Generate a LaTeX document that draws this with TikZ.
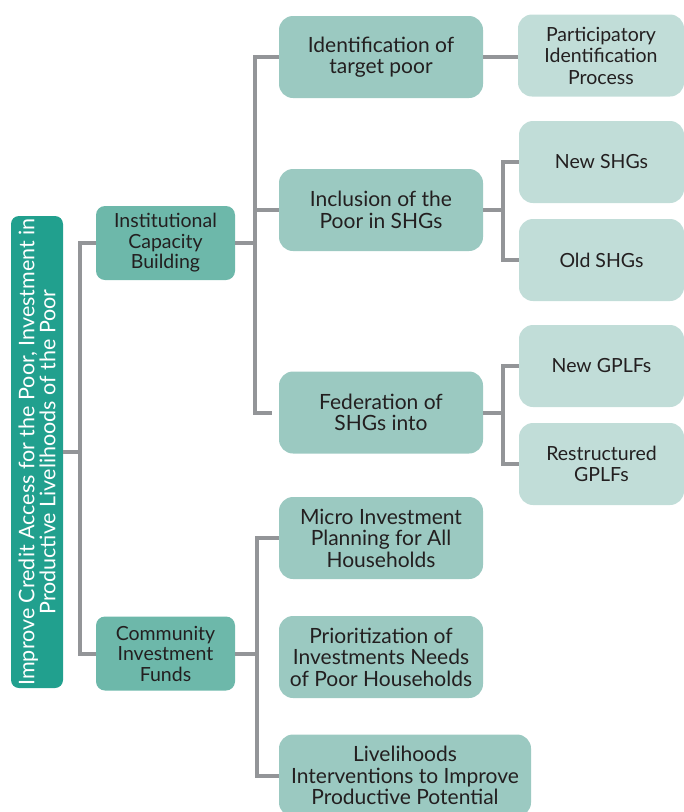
\documentclass[tikz,border=0pt]{standalone}
\usepackage{fontspec}
\setmainfont{Lato}
\definecolor{rootcol}{HTML}{21A08E}
\definecolor{lonecol}{HTML}{6DB8AA}
\definecolor{ltwocol}{HTML}{9BC9C1}
\definecolor{lthreecol}{HTML}{C1DDD8}
\definecolor{linkcol}{HTML}{939598}
\definecolor{txtcol}{HTML}{231F20}
\tikzset{
    box/.style={rounded corners=12pt, align=center, inner sep=0pt, text=txtcol,
        font=\fontsize{21}{21.5}\selectfont},
    rootbox/.style={box, fill=rootcol, text=white, rounded corners=8pt, rotate=90,
        minimum width=472pt, minimum height=52pt, font=\fontsize{21.5}{21}\selectfont},
    lonebox/.style={box, fill=lonecol, rounded corners=9pt,
        minimum width=139pt, minimum height=74pt, font=\fontsize{19.5}{20.5}\selectfont},
    ltwobox/.style={box, fill=ltwocol, rounded corners=14pt,
        minimum width=204pt, minimum height=82pt},
    lthreebox/.style={box, fill=lthreecol, rounded corners=14pt,
        minimum width=165pt, minimum height=82pt, font=\fontsize{19.5}{21.5}\selectfont},
    link/.style={draw=linkcol, line width=4pt}
}
\begin{document}
\begin{tikzpicture}[x=1pt, y=-1pt]
    \useasboundingbox (0,0) rectangle (684,812);

    % Goal
    \node[rootbox] (goal) at (37,452) {Improve Credit Access for the Poor, Investment in\\Productive Livelihoods of the Poor};

    % Components
    \node[lonebox] (icb) at (165.5,243) {Institutional\\Capacity\\Building};
    \node[lonebox] (cif) at (165.5,653.5) {Community\\Investment\\Funds};

    % Activities
    \node[ltwobox] (ident) at (381,57) {Identification of\\target poor};
    \node[ltwobox] (incl) at (381,210) {Inclusion of the\\Poor in SHGs};
    \node[ltwobox] (fed) at (381,412.5) {Federation of\\SHGs into};
    \node[ltwobox] (micro) at (381,538) {Micro Investment\\Planning for All\\Households};
    \node[ltwobox] (prio) at (381,657) {Prioritization of\\Investments Needs\\of Poor Households};
    \node[ltwobox, minimum width=252pt] (livel) at (405,775.5) {Livelihoods\\Interventions to Improve\\Productive Potential};

    % Sub-activities
    \node[lthreebox, minimum width=166pt] (partid) at (601,55.5) {Participatory\\Identification\\Process};
    \node[lthreebox] (newshg) at (601.5,162) {New SHGs};
    \node[lthreebox] (oldshg) at (601.5,260) {Old SHGs};
    \node[lthreebox] (newgplf) at (601.5,366) {New GPLFs};
    \node[lthreebox] (restgplf) at (601.5,464) {Restructured\\GPLFs};

    % Goal to components
    \draw[link] (goal.south) -- ++(17,0);
    \draw[link] (icb.west) -- ++(-16,0) |- (cif.west);

    % Institutional capacity building
    \draw[link] (icb.east) -- ++(20,0);
    \draw[link] (ident.west) -- ++(-24,0) |- ([xshift=-7pt]fed.west);
    \draw[link] (incl.west) -- ++(-24,0);
    \draw[link] (ident.east) -- (ident.east -| partid.west);
    \draw[link] (incl.east) -- ++(20,0);
    \draw[link] (newshg.west) -- ++(-16,0) |- (oldshg.west);
    \draw[link] (fed.east) -- ++(20,0);
    \draw[link] (newgplf.west) -- ++(-16,0) |- (restgplf.west);

    % Community investment funds
    \draw[link] (cif.east) -- ++(22,0);
    \draw[link] (micro.west) -- ++(-22,0) |- (livel.west);
\end{tikzpicture}
\end{document}
